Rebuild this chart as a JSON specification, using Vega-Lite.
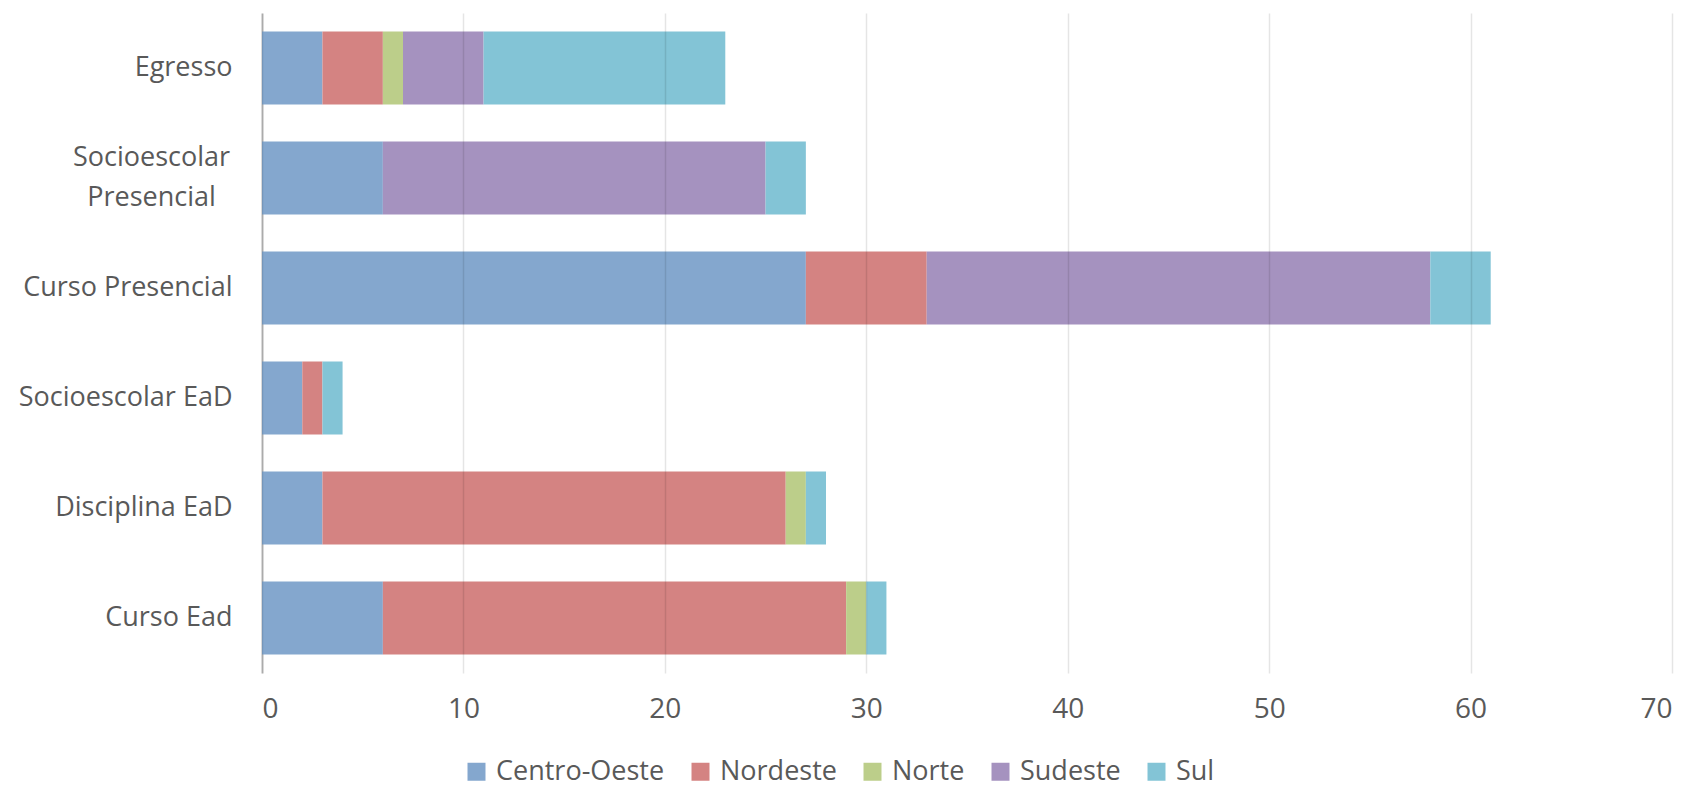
{
  "$schema": "https://vega.github.io/schema/vega-lite/v6.json",
  "width": 1410,
  "height": 660,
  "autosize": "none",
  "padding": {"left": 262, "top": 13, "right": 18, "bottom": 121},
  "background": "#ffffff",
  "config": {"view": {"stroke": null}, "font": "Open Sans"},
  "data": {
    "values": [
      {"categoria": "Egresso", "regiao": "Centro-Oeste", "valor": 3},
      {"categoria": "Egresso", "regiao": "Nordeste", "valor": 3},
      {"categoria": "Egresso", "regiao": "Norte", "valor": 1},
      {"categoria": "Egresso", "regiao": "Sudeste", "valor": 4},
      {"categoria": "Egresso", "regiao": "Sul", "valor": 12},
      {"categoria": "Socioescolar Presencial", "regiao": "Centro-Oeste", "valor": 6},
      {"categoria": "Socioescolar Presencial", "regiao": "Sudeste", "valor": 19},
      {"categoria": "Socioescolar Presencial", "regiao": "Sul", "valor": 2},
      {"categoria": "Curso Presencial", "regiao": "Centro-Oeste", "valor": 27},
      {"categoria": "Curso Presencial", "regiao": "Nordeste", "valor": 6},
      {"categoria": "Curso Presencial", "regiao": "Sudeste", "valor": 25},
      {"categoria": "Curso Presencial", "regiao": "Sul", "valor": 3},
      {"categoria": "Socioescolar EaD", "regiao": "Centro-Oeste", "valor": 2},
      {"categoria": "Socioescolar EaD", "regiao": "Nordeste", "valor": 1},
      {"categoria": "Socioescolar EaD", "regiao": "Sul", "valor": 1},
      {"categoria": "Disciplina EaD", "regiao": "Centro-Oeste", "valor": 3},
      {"categoria": "Disciplina EaD", "regiao": "Nordeste", "valor": 23},
      {"categoria": "Disciplina EaD", "regiao": "Norte", "valor": 1},
      {"categoria": "Disciplina EaD", "regiao": "Sul", "valor": 1},
      {"categoria": "Curso Ead", "regiao": "Centro-Oeste", "valor": 6},
      {"categoria": "Curso Ead", "regiao": "Nordeste", "valor": 23},
      {"categoria": "Curso Ead", "regiao": "Norte", "valor": 1},
      {"categoria": "Curso Ead", "regiao": "Sul", "valor": 1}
    ]
  },
  "mark": {"type": "bar"},
  "encoding": {
    "y": {
      "field": "categoria",
      "type": "nominal",
      "sort": ["Egresso", "Socioescolar Presencial", "Curso Presencial", "Socioescolar EaD", "Disciplina EaD", "Curso Ead"],
      "scale": {"paddingInner": 0.336, "paddingOuter": 0.168},
      "axis": {
        "title": null,
        "ticks": false,
        "domain": true,
        "domainColor": "#BFBFBF",
        "domainWidth": 2,
        "labelFont": "Open Sans",
        "labelFontSize": 27,
        "labelColor": "#595959",
        "labelPadding": {"condition": {"test": "datum.value == 'Socioescolar Presencial'", "value": 111}, "value": 30},
        "labelAlign": {"condition": {"test": "datum.value == 'Socioescolar Presencial'", "value": "center"}, "value": "right"},
        "labelOffset": {"condition": {"test": "datum.value == 'Socioescolar Presencial'", "value": -20}, "value": 0},
        "labelLimit": 400,
        "labelLineHeight": 40,
        "labelExpr": "datum.value == 'Socioescolar Presencial' ? ['Socioescolar', 'Presencial'] : datum.value"
      }
    },
    "x": {
      "field": "valor",
      "type": "quantitative",
      "aggregate": "sum",
      "stack": "zero",
      "scale": {"domain": [0, 70], "nice": false},
      "axis": {
        "title": null,
        "values": [0, 10, 20, 30, 40, 50, 60, 70],
        "grid": true,
        "gridColor": "#000000",
        "gridOpacity": 0.1,
        "gridWidth": 1.5,
        "domain": false,
        "ticks": false,
        "zindex": 1,
        "labelFont": "Open Sans",
        "labelFontSize": 28,
        "labelColor": "#595959",
        "labelPadding": 22
      }
    },
    "color": {
      "field": "regiao",
      "type": "nominal",
      "scale": {
        "domain": ["Centro-Oeste", "Nordeste", "Norte", "Sudeste", "Sul"],
        "range": ["#84A7CE", "#D48382", "#BCCE8A", "#A592BF", "#83C4D6"]
      },
      "legend": {
        "title": null,
        "orient": "none",
        "direction": "horizontal",
        "legendX": 201,
        "legendY": 745,
        "symbolType": "square",
        "symbolSize": 324,
        "symbolStrokeWidth": 0,
        "symbolOpacity": 1,
        "labelFont": "Open Sans",
        "labelFontSize": 27,
        "labelLimit": 400,
        "labelColor": "#595959",
        "labelOffset": 6,
        "columnPadding": 22
      }
    }
  }
}
